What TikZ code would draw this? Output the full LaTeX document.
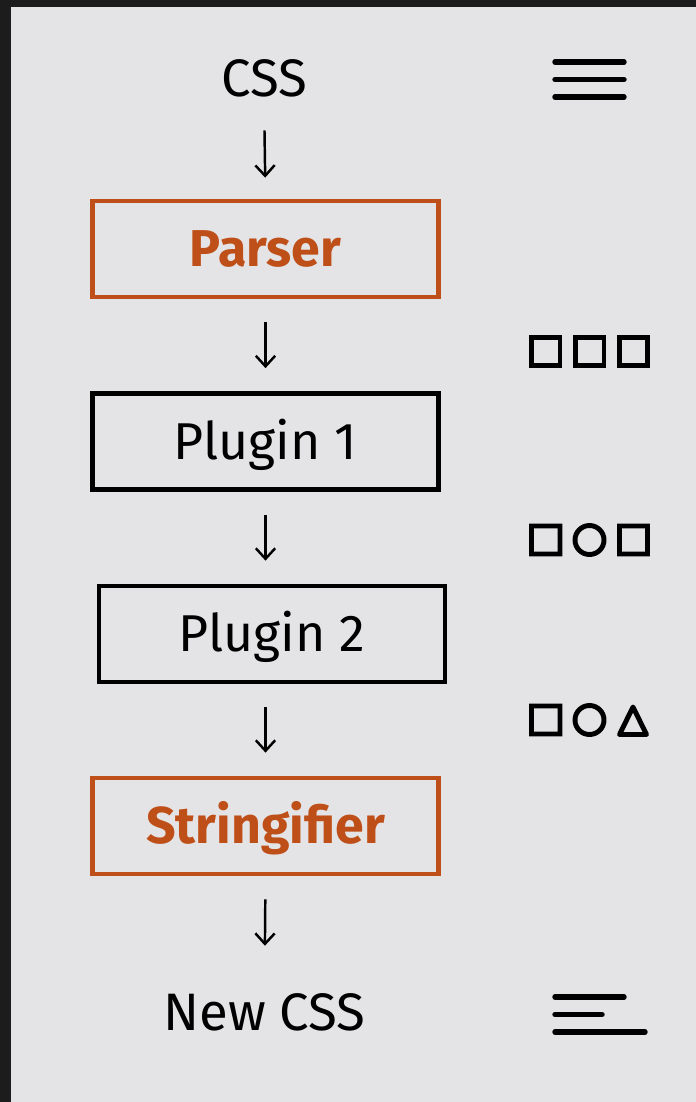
\documentclass[tikz,border=0pt]{standalone}
\usepackage{fontspec}
\setmainfont{Fira Sans}
\usetikzlibrary{arrows.meta}

\definecolor{screen}{HTML}{E4E4E6}
\definecolor{bezel}{HTML}{1C1C1C}
\definecolor{rust}{HTML}{BF4F18}

\tikzset{
  stage/.style={draw=black,line width=2.7pt,minimum width=6.92cm,minimum height=1.92cm,
    inner sep=0pt,text height=20pt,text depth=0pt,font=\fontsize{29.5}{33}\selectfont},
  core/.style={stage,draw=rust,text=rust,font=\fontsize{29.5}{33}\selectfont\bfseries},
  endtext/.style={inner sep=0pt,text height=21pt,text depth=0pt,font=\fontsize{30}{34}\selectfont},
  flow/.style={-{Straight Barb[length=6pt,width=11pt]},line width=1.4pt,
    shorten <=0.46cm,shorten >=0.46cm},
  bars/.style={line width=3.1pt,line cap=round},
  glyph/.style={line width=2.8pt}
}

\begin{document}
\begin{tikzpicture}[x=0.02cm,y=-0.02cm]
% screen and dark edges
\fill[bezel] (0,0) rectangle (696,1102);
\fill[screen] (11,7) rectangle (696,1102);
\useasboundingbox (0,0) rectangle (696,1102);

% pipeline
\node[endtext] (css) at (264,78.5) {CSS};
\node[core] (parser) at (265.5,249) {Parser};
\node[stage] (plugin1) at (265.5,441.5) {Plugin 1};
\node[stage] (plugin2) at (272,634) {Plugin 2};
\node[core] (stringifier) at (265.5,826) {Stringifier};
\node[endtext] (newcss) at (264.5,1012.5) {New CSS};

\draw[flow,shorten <=0.66cm,shorten >=0.42cm] (css.south) -- (parser.north);
\draw[flow] (parser.south) -- (plugin1.north);
\draw[flow] (plugin1.south) -- (plugin1.south |- plugin2.north);
\draw[flow] (stringifier.north |- plugin2.south) -- (stringifier.north);
\draw[flow,shorten >=0.96cm] (stringifier.south) -- (newcss.north);

% text icons
\draw[bars] (555,62) -- (624,62) (555,79.5) -- (624,79.5) (555,97) -- (624,97);
\draw[bars] (555,997) -- (624,997) (555,1014.5) -- (602,1014.5) (555,1032) -- (645,1032);

% tokens after parser
\draw[glyph] (531.5,337.5) rectangle (560,365.5) (575.5,337.5) rectangle (604,365.5) (619.5,337.5) rectangle (647.5,365.5);
% tokens after plugin 1
\draw[glyph] (531.5,526) rectangle (560,554) (589.5,540) circle (14.5) (619.5,526) rectangle (647.5,554);
% tokens after plugin 2
\draw[glyph] (531.5,706) rectangle (560,734) (589.5,720) circle (14.5);
\draw[glyph,line join=round] (633,707) -- (646.5,734.5) -- (619.5,734.5) -- cycle;
\end{tikzpicture}
\end{document}
